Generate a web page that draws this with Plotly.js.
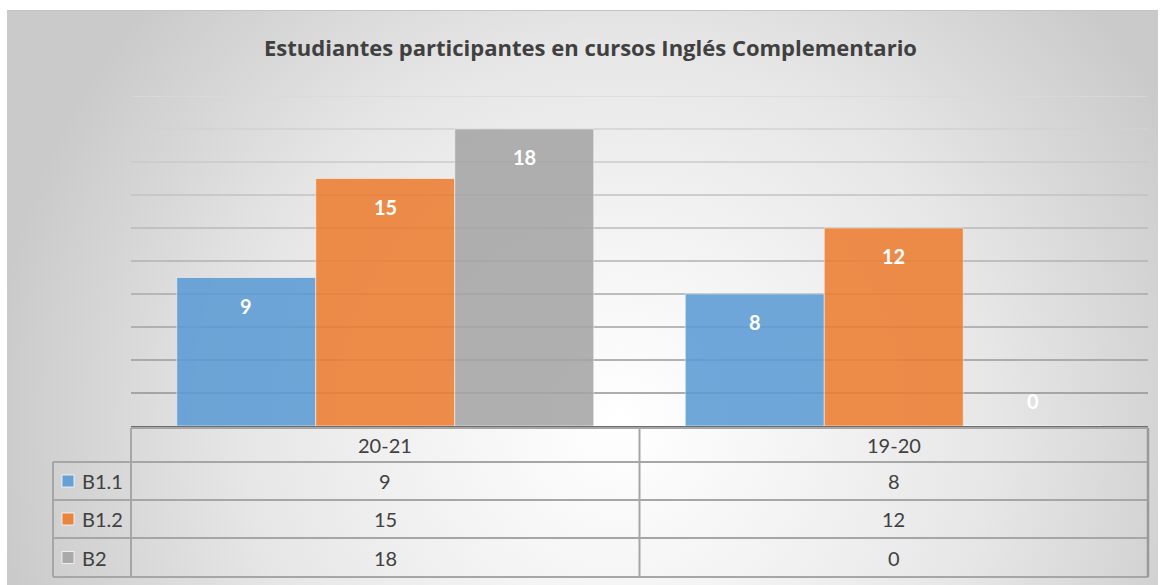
<!DOCTYPE html>
<html>
<head>
<meta charset="utf-8">
<script src="https://cdn.plot.ly/plotly-3.0.1.min.js"></script>
<style>
  html, body { margin: 0; padding: 0; background: #ffffff; }
  #wrap { position: relative; width: 1166px; height: 585px; overflow: hidden; }
  #bg { position: absolute; left: 7px; top: 10px; width: 1151px; height: 575px;
        border-top: 1px solid #c4c4c4;
        background: radial-gradient(circle at 613px 410px, #ffffff 0px, #f4f4f4 180px, #e6e6e6 380px, #cacaca 630px); }
  #chart { position: absolute; left: 0; top: 0; width: 1166px; height: 585px; }
</style>
</head>
<body>
<div id="wrap"><div id="bg"></div><div id="chart"></div></div>
<script>
// ---- data ----
const categories = ["20-21", "19-20"];
const seriesNames = ["B1.1", "B1.2", "B2"];
const b11 = [9, 8];
const b12 = [15, 12];
const b2  = [18, 0];
const seriesValues = [b11, b12, b2];
const colors = ["#5B9BD5", "#ED7D31", "#A5A5A5"];

// ---- geometry helpers ----
const W = 1166, H = 585;
const mL = 131, mR = 18, mT = 96, mB = 159;
const plotW = W - mL - mR, plotH = H - mT - mB;
const fx = px => (px - mL) / plotW;
const fy = py => (H - mB - py) / plotH;
const bargap = 0.18;
const barW = (1 - bargap) / seriesNames.length;
const yMax = 20, dtick = 2;

const xs = categories.map((c, i) => i);

const traces = seriesNames.map((name, j) => ({
  type: "bar",
  name: name,
  x: xs,
  y: seriesValues[j],
  marker: { color: colors[j], opacity: 0.87, line: { color: "rgba(255,255,255,0.55)", width: 1 } },
  hoverinfo: "x+y+name",
  showlegend: false
}));

const shapes = [];
const annotations = [];
const font = "Lato, 'Open Sans', sans-serif";
const titleFont = "'Open Sans', Lato, sans-serif";

// gridlines (light at top, darker at bottom)
for (let v = dtick; v <= yMax; v += dtick) {
  const t = v / yMax;
  const g = Math.round(0x8a + (0xda - 0x8a) * t);
  shapes.push({ type: "line", xref: "paper", yref: "y", x0: 0, x1: 1, y0: v, y1: v,
    line: { color: `rgb(${g},${g},${g})`, width: 1.5 }, layer: "below" });
}

// data labels
seriesValues.forEach((vals, j) => {
  vals.forEach((v, i) => {
    const small = v / yMax * plotH < 40;
    annotations.push({
      x: i + (j - (seriesNames.length - 1) / 2) * barW, y: v, xref: "x", yref: "y",
      text: "<b>" + v + "</b>", showarrow: false,
      yshift: small ? 25 : -28, yanchor: "middle",
      font: { family: font, size: 20, color: "#ffffff" }
    });
  });
});

// ---- data table ----
const lineCol = "#a6a6a6";
const rowsY = [428, 462, 500, 538, 577];
const tblL = 53, tblX0 = 131, tblMid = 639.5, tblR = 1148;
function hl(x0, x1, py, col, w) {
  shapes.push({ type: "line", xref: "paper", yref: "paper", x0: fx(x0), x1: fx(x1), y0: fy(py), y1: fy(py),
    line: { color: col, width: w } });
}
function vl(px, y0, y1, col, w) {
  shapes.push({ type: "line", xref: "paper", yref: "paper", x0: fx(px), x1: fx(px), y0: fy(y0), y1: fy(y1),
    line: { color: col, width: w } });
}
hl(tblX0, tblR, rowsY[0], lineCol, 2);
for (let r = 1; r < rowsY.length; r++) hl(tblL, tblR, rowsY[r], lineCol, 2);
vl(tblX0, rowsY[0], rowsY[4], lineCol, 2);
vl(tblMid, rowsY[0], rowsY[4], lineCol, 2);
vl(tblR, rowsY[0], rowsY[4], "#9a9a9a", 2.5);
vl(tblL, rowsY[1], rowsY[4], lineCol, 2);

const colCenters = categories.map((c, i) => mL + plotW * (i + 0.5) / categories.length);
const txtCol = "#404040";
categories.forEach((c, i) => {
  annotations.push({ x: fx(colCenters[i]), y: fy((rowsY[0] + rowsY[1]) / 2), xref: "paper", yref: "paper",
    text: c, showarrow: false, xanchor: "center", yanchor: "middle",
    font: { family: font, size: 20, color: txtCol } });
});
seriesNames.forEach((name, j) => {
  const cy = (rowsY[j + 1] + rowsY[j + 2]) / 2;
  shapes.push({ type: "rect", xref: "paper", yref: "paper",
    x0: fx(62), x1: fx(74), y0: fy(cy - 6), y1: fy(cy + 6),
    fillcolor: colors[j], opacity: 0.9, line: { color: "rgba(255,255,255,0.8)", width: 1 } });
  annotations.push({ x: fx(80), y: fy(cy), xref: "paper", yref: "paper", text: name, showarrow: false,
    xanchor: "left", yanchor: "middle", font: { family: font, size: 20, color: txtCol } });
  seriesValues[j].forEach((v, i) => {
    annotations.push({ x: fx(colCenters[i]), y: fy(cy), xref: "paper", yref: "paper",
      text: String(v), showarrow: false, xanchor: "center", yanchor: "middle",
      font: { family: font, size: 20, color: txtCol } });
  });
});

const layout = {
  width: W, height: H,
  margin: { l: mL, r: mR, t: mT, b: mB, pad: 0 },
  paper_bgcolor: "rgba(0,0,0,0)",
  plot_bgcolor: "rgba(0,0,0,0)",
  title: { text: "<b>Estudiantes participantes en cursos Inglés Complementario</b>",
    x: 590.5 / W, xanchor: "center", y: 1 - 48 / H, yanchor: "middle",
    font: { family: titleFont, size: 22, color: "#404040" } },
  barmode: "group",
  bargap: bargap,
  bargroupgap: 0,
  xaxis: { range: [-0.5, categories.length - 0.5], showticklabels: false, showgrid: false,
    zeroline: false, showline: true, linecolor: "#6e6e6e", linewidth: 2, ticks: "", fixedrange: true },
  yaxis: { range: [0, yMax], dtick: dtick, showgrid: false, zeroline: false,
    showticklabels: false, ticks: "", showline: false, fixedrange: true },
  shapes: shapes,
  annotations: annotations,
  showlegend: false
};

Plotly.newPlot("chart", traces, layout, { displayModeBar: false, staticPlot: true });
</script>
</body>
</html>
